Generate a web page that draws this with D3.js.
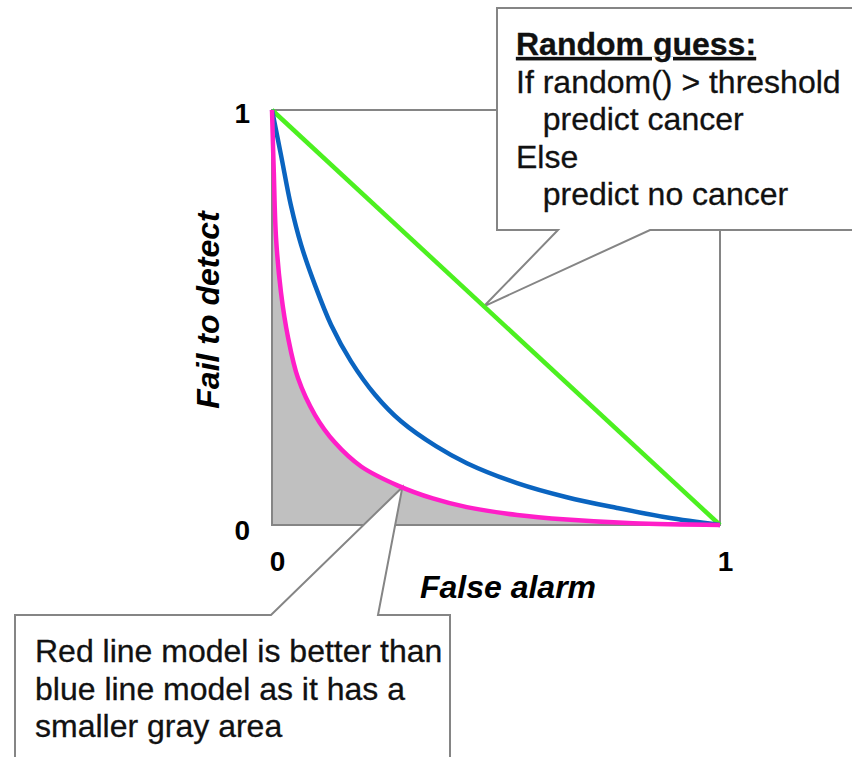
<!DOCTYPE html>
<html>
<head>
<meta charset="utf-8">
<script src="https://cdn.jsdelivr.net/npm/d3@7"></script>
<style>
  body { margin: 0; background: #fff; }
  svg { display: block; font-family: "Liberation Sans", Arial, sans-serif; }
</style>
</head>
<body>
<div id="roc"></div>
<script>
// ROC-style curves, fractions of the unit square
var redX   = [0, 0.004, 0.009, 0.020, 0.036, 0.058, 0.096, 0.141, 0.199, 0.281, 0.359, 0.435, 0.547, 0.658, 0.806, 1];
var redY   = [1, 0.851, 0.692, 0.561, 0.451, 0.354, 0.265, 0.198, 0.141, 0.095, 0.064, 0.043, 0.024, 0.013, 0.004, 0];
var blueX  = [0, 0.020, 0.042, 0.065, 0.096, 0.132, 0.176, 0.230, 0.288, 0.366, 0.435, 0.547, 0.658, 0.770, 0.882, 1];
var blueY  = [1, 0.892, 0.771, 0.675, 0.578, 0.482, 0.395, 0.314, 0.250, 0.190, 0.149, 0.101, 0.067, 0.041, 0.018, 0];
var greenX = [0, 1];
var greenY = [1, 0];
var tickValues = [0, 1];

var xLabel = "False alarm",
    yLabel = "Fail to detect";
var guessTitle = "Random guess:";
var guessLines = ["If random() > threshold", "   predict cancer", "Else", "   predict no cancer"];
var noteLines = ["Red line model is better than", "blue line model as it has a", "smaller gray area"];

var width = 852, height = 757;

var svg = d3.select("#roc").append("svg")
    .attr("width", width)
    .attr("height", height);

// set the ranges
var x = d3.scaleLinear().domain([0, 1]).range([272, 720]);
var y = d3.scaleLinear().domain([0, 1]).range([525, 110]);

function pts(xs, ys) { return xs.map(function(d, i) { return [d, ys[i]]; }); }
var red = pts(redX, redY), blue = pts(blueX, blueY), green = pts(greenX, greenY);

var curve = d3.curveCatmullRom.alpha(0.5);

var line = d3.line()
    .x(function(d) { return x(d[0]); })
    .y(function(d) { return y(d[1]); })
    .curve(curve);

// gray area under the red curve
var area = d3.area()
    .x(function(d) { return x(d[0]); })
    .y0(y(0))
    .y1(function(d) { return y(d[1]); })
    .curve(curve);

svg.append("path")
    .datum(red)
    .attr("d", area)
    .attr("fill", "#c0c0c0")
    .attr("stroke", "none");

// plot frame
svg.append("rect")
    .attr("x", x(0)).attr("y", y(1))
    .attr("width", x(1) - x(0)).attr("height", y(0) - y(1))
    .attr("fill", "none")
    .attr("stroke", "#858585")
    .attr("stroke-width", 2);

// axes, only the 0 / 1 labels
var yAxis = svg.append("g")
    .attr("transform", "translate(" + x(0) + ",0)")
    .call(d3.axisLeft(y).tickValues(tickValues).tickSize(0).tickPadding(22).tickFormat(d3.format("d")));
yAxis.select(".domain").remove();
yAxis.selectAll("text")
    .attr("dy", function(d) { return d === 0 ? "0.5em" : "0.45em"; });

var xAxis = svg.append("g")
    .attr("transform", "translate(0," + y(0) + ")")
    .call(d3.axisBottom(x).tickValues(tickValues).tickSize(0).tickPadding(26).tickFormat(d3.format("d")));
xAxis.select(".domain").remove();
xAxis.selectAll("text").attr("dx", 5);

svg.selectAll(".tick text")
    .attr("fill", "#000")
    .style("font-size", "28px")
    .style("font-weight", "bold")
    .style("font-family", "'Liberation Sans', Arial, sans-serif");

svg.append("text")
    .attr("x", 508).attr("y", 598)
    .attr("text-anchor", "middle")
    .style("font-size", "32px").style("font-weight", "bold").style("font-style", "italic")
    .text(xLabel);

svg.append("text")
    .attr("transform", "translate(219,310) rotate(-90)")
    .attr("text-anchor", "middle")
    .style("font-size", "32px").style("font-weight", "bold").style("font-style", "italic")
    .text(yLabel);

// callouts
var tipTop = [x(0.473), y(0.527)];
var tipBottom = [x(0.291), y(0.091)];

svg.append("path")
    .attr("d", "M497,8H862V230H650L" + tipTop[0] + "," + tipTop[1] + "L558,230H497Z")
    .attr("fill", "#fff")
    .attr("stroke", "#858585")
    .attr("stroke-width", 2);

svg.append("path")
    .attr("d", "M15,615H271L" + tipBottom[0] + "," + tipBottom[1] + "L378,615H450V770H15Z")
    .attr("fill", "#fff")
    .attr("stroke", "#858585")
    .attr("stroke-width", 2);

var guess = svg.append("text")
    .attr("x", 516).attr("y", 55)
    .style("font-size", "32px")
    .attr("fill", "#111")
    .attr("stroke", "#111")
    .attr("stroke-width", 0.3);
guess.append("tspan")
    .attr("x", 516)
    .style("font-weight", "bold")
    .style("text-decoration", "underline")
    .text(guessTitle);
guess.selectAll(".ln")
    .data(guessLines)
    .enter().append("tspan")
    .attr("class", "ln")
    .attr("x", 516)
    .attr("dy", 37.5)
    .style("white-space", "pre")
    .text(function(d) { return d; });

svg.append("text")
    .attr("y", 662)
    .style("font-size", "32px")
    .attr("fill", "#111")
    .attr("stroke", "#111")
    .attr("stroke-width", 0.3)
    .selectAll("tspan")
    .data(noteLines)
    .enter().append("tspan")
    .attr("x", 35)
    .attr("dy", function(d, i) { return i ? 37.5 : 0; })
    .text(function(d) { return d; });

// curves
[[green, "#4cf020"], [blue, "#0a64c0"], [red, "#ff1ec8"]].forEach(function(s) {
  svg.append("path")
      .datum(s[0])
      .attr("d", line)
      .attr("fill", "none")
      .attr("stroke", s[1])
      .attr("stroke-width", 4.5)
      .attr("stroke-linejoin", "round");
});
</script>
</body>
</html>
